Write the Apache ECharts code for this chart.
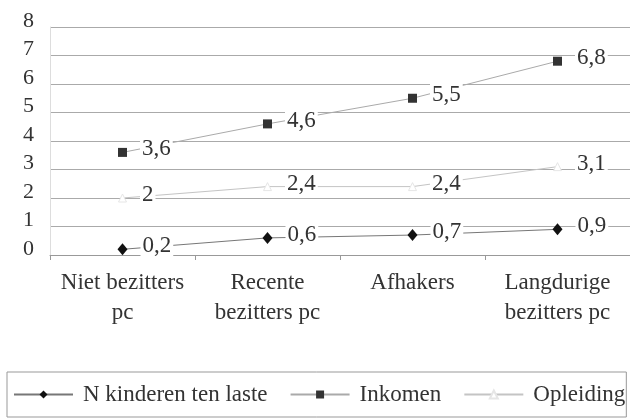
<!DOCTYPE html>
<html><head><meta charset="utf-8">
<script src="https://cdn.jsdelivr.net/npm/echarts@6/dist/echarts.min.js"></script>
<style>html,body{margin:0;padding:0;background:#fff}#c{width:630px;height:419px}</style>
</head><body><div id="c"></div>
<script>
const categories = ['Niet bezitters\npc', 'Recente\nbezitters pc', 'Afhakers', 'Langdurige\nbezitters pc'];
const kinderen = [0.2, 0.6, 0.7, 0.9];
const inkomen = [3.6, 4.6, 5.5, 6.8];
const opleiding = [2, 2.4, 2.4, 3.1];
const yTicks = [0, 1, 2, 3, 4, 5, 6, 7, 8];

const FONT = '"Liberation Serif", "Times New Roman", serif';
const fmt = p => String(p.value).replace('.', ',');
const lbl = {
  show: true, position: 'right', distance: 13, offset: [0, -3],
  formatter: fmt, fontFamily: FONT, fontSize: 23, color: '#333',
  backgroundColor: '#fff', padding: [0, 2]
};

const chart = echarts.init(document.getElementById('c'), null, {renderer: 'canvas'});
chart.setOption({
  animation: false,
  backgroundColor: '#fff',
  grid: {left: 50, top: 27, bottom: 164, width: 588},
  xAxis: {
    type: 'category', data: categories, boundaryGap: true,
    axisLine: {lineStyle: {color: '#999'}},
    axisTick: {show: true, length: 5, lineStyle: {color: '#999'}},
    axisLabel: {fontFamily: FONT, fontSize: 23, color: '#333', lineHeight: 30, margin: 13, interval: 0}
  },
  yAxis: {
    type: 'value', min: yTicks[0], max: yTicks[yTicks.length - 1], interval: 1,
    axisLine: {show: true, lineStyle: {color: '#ddd'}},
    axisTick: {show: false},
    splitLine: {lineStyle: {color: '#aaa', width: 1}},
    axisLabel: {fontFamily: FONT, fontSize: 22, color: '#333', margin: 16, verticalAlign: 'bottom', lineHeight: 12}
  },
  legend: {
    left: 7, top: 372, orient: 'horizontal',
    padding: [11, 1, 11, 6],
    borderColor: '#999', borderWidth: 1,
    itemWidth: 59, itemHeight: 10, itemGap: 22,
    textStyle: {fontFamily: FONT, fontSize: 23, color: '#333', padding: [0, 0, 0, 5]},
    data: ['N kinderen ten laste', 'Inkomen', 'Opleiding']
  },
  series: [
    {
      name: 'N kinderen ten laste', type: 'line', data: kinderen,
      symbol: 'diamond', symbolSize: [10, 12],
      itemStyle: {color: '#111'}, lineStyle: {color: '#777', width: 1},
      label: lbl
    },
    {
      name: 'Inkomen', type: 'line', data: inkomen,
      symbol: 'rect', symbolSize: 9,
      itemStyle: {color: '#333'}, lineStyle: {color: '#aaa', width: 1},
      label: lbl
    },
    {
      name: 'Opleiding', type: 'line', data: opleiding,
      symbol: 'triangle', symbolSize: 8,
      itemStyle: {color: '#fff', borderColor: '#e6e6e6', borderWidth: 1}, lineStyle: {color: '#c4c4c4', width: 1},
      label: lbl
    }
  ]
});
</script></body></html>
